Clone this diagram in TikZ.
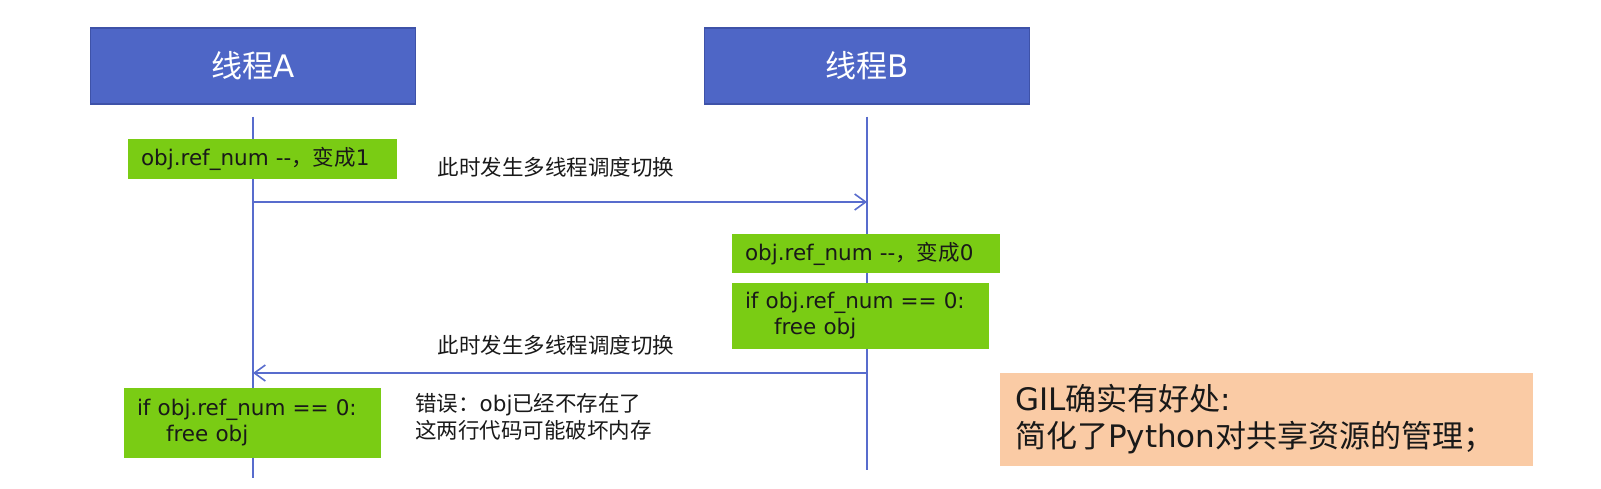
\documentclass[tikz,border=0pt]{standalone}
\usepackage{fontspec}
\setmainfont{DejaVu Sans}
\newfontfamily\zh{Noto Sans CJK SC}
\definecolor{threadblue}{RGB}{78,102,198}
\definecolor{threadedge}{RGB}{62,82,168}
\definecolor{lifeline}{RGB}{88,108,205}
\definecolor{codegreen}{RGB}{122,204,20}
\definecolor{tipback}{RGB}{250,203,165}
\definecolor{ink}{RGB}{25,25,25}
\usetikzlibrary{arrows.meta,positioning,calc}

\begin{document}
\begin{tikzpicture}[x=1pt, y=-1pt,
    thread/.style={draw=threadedge, line width=1.2pt, fill=threadblue, text=white,
      minimum width=325pt, minimum height=76pt, inner sep=0pt,
      font=\fontsize{31}{36}\selectfont},
    codebox/.style={fill=codegreen, text=ink, inner xsep=13pt, inner ysep=0pt, align=left,
      font=\fontsize{21.5}{26}\selectfont},
    note/.style={text=ink, inner sep=0pt, align=left,
      font=\fontsize{21.5}{27}\selectfont},
    life/.style={lifeline, line width=1.6pt},
    msg/.style={lifeline, line width=1.6pt, -{Straight Barb[length=11pt, width=16pt, line width=1.6pt]}}]
  \useasboundingbox (0,0) rectangle (1601,488);
  % lifelines
  \node[thread] (ta) at (253,66) {{\zh 线程}A};
  \node[thread] (tb) at (867,66) {{\zh 线程}B};
  \coordinate (endA) at (253,478);
  \coordinate (endB) at (867,470);
  \draw[life] ([yshift=-12pt]ta.south) -- (endA);
  \draw[life] ([yshift=-12pt]tb.south) -- (endB);
  % messages
  \coordinate (a1) at (253,202);
  \coordinate (b1) at (867,202);
  \coordinate (b2) at (867,373);
  \coordinate (a2) at (253,373);
  \draw[msg] (a1) -- (b1);
  \draw[msg] (b2) -- (a2);
  \node[note, font=\zh\fontsize{21.5}{27}\selectfont] (sw1) at (556,167) {此时发生多线程调度切换};
  \node[note, font=\zh\fontsize{21.5}{27}\selectfont] (sw2) at (556,345) {此时发生多线程调度切换};
  % code steps
  \node[codebox, text width=243pt, minimum height=40pt] (decA) at (262.5,159) {obj.ref\_num -{}-{\zh ，变成}1};
  \node[codebox, text width=242pt, minimum height=39pt] (decB) at (866,253.5) {obj.ref\_num -{}-{\zh ，变成}0};
  \node[codebox, text width=231pt, minimum height=66pt] (freeB) at (860.5,316)
    {if obj.ref\_num == 0:\\\hspace*{1.35em}free obj};
  \node[codebox, text width=231pt, minimum height=70pt] (freeA) at (252.5,423)
    {if obj.ref\_num == 0:\\\hspace*{1.35em}free obj};
  \node[note, anchor=west] (err) at (415,416.5)
    {{\zh 错误：}obj{\zh 已经不存在了}\\{\zh 这两行代码可能破坏内存}};
  % remark
  \node[fill=tipback, text=ink, minimum width=533pt, minimum height=93pt, inner sep=0pt,
    text width=503pt, align=left, font=\fontsize{31}{37}\selectfont] (gil) at (1266.5,419.5)
    {GIL{\zh 确实有好处}:\\{\zh 简化了}Python{\zh 对共享资源的管理；}};
\end{tikzpicture}
\end{document}
